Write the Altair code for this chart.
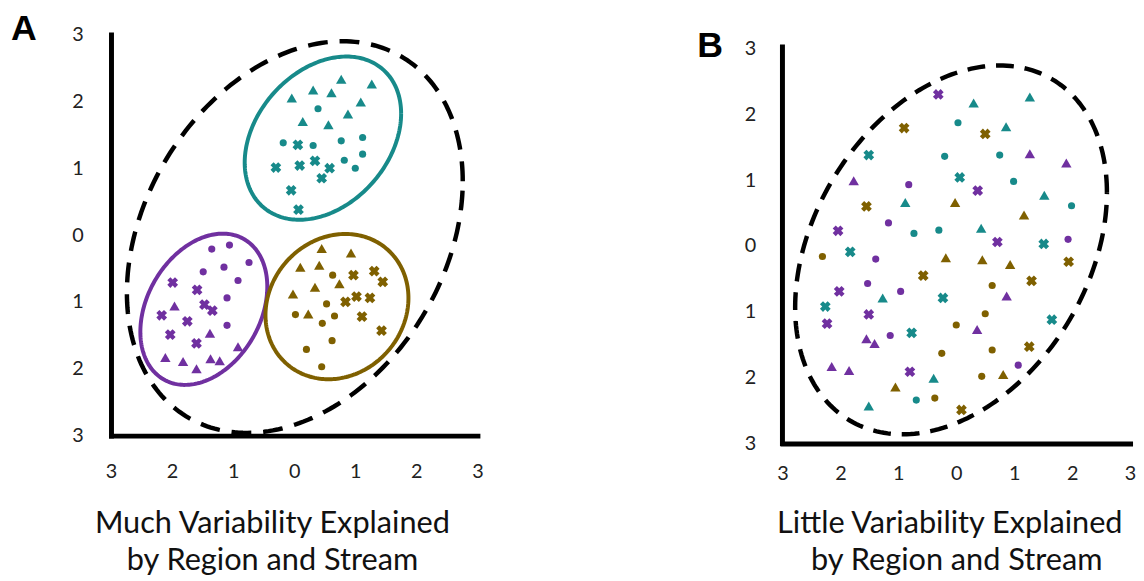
import altair as alt
import numpy as np
import pandas as pd

TEAL = "#178a8a"
PURPLE = "#7030a0"
BROWN = "#7f6000"
REGIONS = ["Region 1", "Region 2", "Region 3"]
STREAMS = ["Stream 1", "Stream 2", "Stream 3"]
TICKS = [-3, -2, -1, 0, 1, 2, 3]

# ---------------- Panel A points ----------------
A_TEAL_TRI_X = [-0.04, 0.31, 0.61, 0.77, 1.27, 1.09, 0.88, 0.14, 0.56]
A_TEAL_TRI_Y = [2.05, 2.17, 2.13, 2.33, 2.26, 1.99, 1.81, 1.70, 1.65]
A_TEAL_CIR_X = [0.39, -0.18, 0.31, 0.77, 1.12, 1.12, 0.82, 1.00]
A_TEAL_CIR_Y = [1.89, 1.38, 1.34, 1.41, 1.46, 1.21, 1.12, 1.00]
A_TEAL_X_X = [0.06, -0.30, 0.09, 0.34, 0.58, 0.45, -0.05, 0.07]
A_TEAL_X_Y = [1.35, 1.01, 1.04, 1.11, 1.00, 0.85, 0.67, 0.38]

A_PURP_CIR_X = [-1.35, -1.06, -0.74, -1.49, -1.15, -0.92, -1.10, -1.10]
A_PURP_CIR_Y = [-0.21, -0.15, -0.41, -0.55, -0.48, -0.68, -0.94, -1.35]
A_PURP_X_X = [-1.99, -1.59, -1.47, -1.34, -2.17, -1.75, -2.03, -1.60]
A_PURP_X_Y = [-0.71, -0.82, -1.04, -1.13, -1.20, -1.29, -1.49, -1.62]
A_PURP_TRI_X = [-1.96, -1.38, -0.92, -2.11, -1.82, -1.60, -1.37, -1.22]
A_PURP_TRI_Y = [-1.06, -1.47, -1.67, -1.83, -1.89, -2.00, -1.85, -1.88]

A_BRWN_TRI_X = [0.45, 0.93, 0.10, 0.41, 0.74, 0.34, -0.02, 0.23]
A_BRWN_TRI_Y = [-0.20, -0.27, -0.48, -0.45, -0.73, -0.78, -0.88, -1.18]
A_BRWN_CIR_X = [0.63, 0.53, 0.02, 0.66, 0.46, 0.62, 0.20, 0.45]
A_BRWN_CIR_Y = [-0.60, -1.03, -1.19, -1.21, -1.32, -1.58, -1.71, -1.97]
A_BRWN_X_X = [0.97, 1.31, 1.45, 0.84, 1.02, 1.24, 1.11, 1.43]
A_BRWN_X_Y = [-0.60, -0.54, -0.70, -1.00, -0.92, -0.94, -1.22, -1.43]

# ---------------- Panel B points ----------------
B_PURP_X_X = [-0.31, 0.37, -2.04, 0.71, -2.02, -1.51, -2.23, -0.80]
B_PURP_X_Y = [2.30, 0.84, 0.23, 0.06, -0.69, -1.04, -1.18, -1.91]
B_PURP_CIR_X = [-0.82, -1.17, -1.39, -1.53, -0.96, -1.14, 1.93, 1.07]
B_PURP_CIR_Y = [0.93, 0.35, -0.20, -0.57, -0.69, -1.36, 0.10, -1.81]
B_PURP_TRI_X = [-1.77, 1.27, 1.90, 0.87, 0.36, -1.55, -1.41, -2.15, -1.85]
B_PURP_TRI_Y = [0.99, 1.40, 1.26, -0.76, -1.27, -1.41, -1.48, -1.83, -1.89]

B_TEAL_X_X = [-1.51, 0.06, -1.83, 1.51, -2.26, -0.23, -0.77, 1.65]
B_TEAL_X_Y = [1.38, 1.04, -0.09, 0.03, -0.92, -0.79, -1.32, -1.12]
B_TEAL_CIR_X = [0.03, -0.20, 0.75, 0.99, 1.99, -0.73, -0.30, -0.69]
B_TEAL_CIR_Y = [1.87, 1.36, 1.38, 0.98, 0.61, 0.19, 0.24, -2.34]
B_TEAL_TRI_X = [0.30, 1.27, 0.86, -0.88, 1.52, 0.43, -1.27, -0.39, -1.51]
B_TEAL_TRI_Y = [2.17, 2.26, 1.81, 0.66, 0.77, 0.27, -0.79, -2.01, -2.43]

B_BRWN_X_X = [-0.90, 0.50, -1.55, -0.57, 1.30, 1.94, 1.26, 0.09]
B_BRWN_X_Y = [1.79, 1.70, 0.60, -0.45, -0.53, -0.24, -1.53, -2.49]
B_BRWN_CIR_X = [-2.31, 0.62, 0.50, 0.00, 0.62, -0.25, 0.44, -0.37]
B_BRWN_CIR_Y = [-0.16, -0.60, -1.03, -1.20, -1.58, -1.63, -1.98, -2.31]
B_BRWN_TRI_X = [-0.02, 1.17, -0.18, 0.45, 0.93, 0.81, -1.05]
B_BRWN_TRI_Y = [0.66, 0.47, -0.18, -0.21, -0.28, -1.95, -2.14]

# ellipse parameters: centre x, centre y, var x, cov xy, var y
A_ELL_ALL = [0.01, -0.03, 7.56, 2.30, 8.58]
A_ELL_TEAL = [0.47, 1.45, 1.64, 0.47, 1.49]
A_ELL_PURP = [-1.48, -1.11, 1.08, 0.35, 1.28]
A_ELL_BRWN = [0.70, -1.07, 1.37, 0.15, 1.18]
B_ELL_ALL = [-0.09, -0.06, 7.24, 2.35, 7.84]

# axis extents (panel B's plot is set lower than panel A's)
A_Y_DOMAIN = [-3, 3]
B_Y_DOMAIN = [-3, 3.21]
B_Y_AXIS_TOP = 3.02

TITLE_A = ["Much Variability Explained", "by Region and Stream"]
TITLE_B = ["Little Variability Explained", "by Region and Stream"]


def points_df(groups):
    rows = []
    for region, stream, xs, ys in groups:
        for x, y in zip(xs, ys):
            rows.append({"x": x, "y": y, "region": region, "stream": stream})
    return pd.DataFrame(rows)


def ellipse_df(params, region, n=240):
    cx, cy, sxx, sxy, syy = params
    t = np.linspace(0, 2 * np.pi, n + 1)
    a = np.sqrt(sxx)
    b = sxy / a
    c = np.sqrt(syy - b * b)
    return pd.DataFrame({
        "x": cx + a * np.cos(t),
        "y": cy + b * np.cos(t) + c * np.sin(t),
        "i": np.arange(n + 1),
        "region": region,
    })


ptsA = points_df([
    ("Region 1", "Stream 1", A_TEAL_TRI_X, A_TEAL_TRI_Y),
    ("Region 1", "Stream 2", A_TEAL_CIR_X, A_TEAL_CIR_Y),
    ("Region 1", "Stream 3", A_TEAL_X_X, A_TEAL_X_Y),
    ("Region 2", "Stream 1", A_PURP_TRI_X, A_PURP_TRI_Y),
    ("Region 2", "Stream 2", A_PURP_CIR_X, A_PURP_CIR_Y),
    ("Region 2", "Stream 3", A_PURP_X_X, A_PURP_X_Y),
    ("Region 3", "Stream 1", A_BRWN_TRI_X, A_BRWN_TRI_Y),
    ("Region 3", "Stream 2", A_BRWN_CIR_X, A_BRWN_CIR_Y),
    ("Region 3", "Stream 3", A_BRWN_X_X, A_BRWN_X_Y),
])
ptsB = points_df([
    ("Region 1", "Stream 1", B_TEAL_TRI_X, B_TEAL_TRI_Y),
    ("Region 1", "Stream 2", B_TEAL_CIR_X, B_TEAL_CIR_Y),
    ("Region 1", "Stream 3", B_TEAL_X_X, B_TEAL_X_Y),
    ("Region 2", "Stream 1", B_PURP_TRI_X, B_PURP_TRI_Y),
    ("Region 2", "Stream 2", B_PURP_CIR_X, B_PURP_CIR_Y),
    ("Region 2", "Stream 3", B_PURP_X_X, B_PURP_X_Y),
    ("Region 3", "Stream 1", B_BRWN_TRI_X, B_BRWN_TRI_Y),
    ("Region 3", "Stream 2", B_BRWN_CIR_X, B_BRWN_CIR_Y),
    ("Region 3", "Stream 3", B_BRWN_X_X, B_BRWN_X_Y),
])

ellA = pd.concat([
    ellipse_df(A_ELL_TEAL, "Region 1"),
    ellipse_df(A_ELL_PURP, "Region 2"),
    ellipse_df(A_ELL_BRWN, "Region 3"),
])
dashA = ellipse_df(A_ELL_ALL, "all")
dashB = ellipse_df(B_ELL_ALL, "all")

COLOR = alt.Color("region:N", scale=alt.Scale(domain=REGIONS, range=[TEAL, PURPLE, BROWN]), legend=None)
TXT_FONT = "Lato"


def panel(pts, ells, dash, W, H, ydom, yaxis_top, letter, lxy, titles, t1, t2, xpad, ypad, dasharr):
    common = dict(values=TICKS, labelExpr="'' + abs(datum.value)", grid=False, ticks=False,
                  domainWidth=5, domainColor="black", domainCap="square", labelFont=TXT_FONT,
                  labelFontSize=20, labelColor="#222222", title=None,
                  labelFlush=False, labelOverlap=False)
    xaxis = alt.Axis(labelPadding=xpad, **common)
    yaxis = alt.Axis(labelPadding=ypad, domain=(yaxis_top is None), **common)
    X = alt.X("x:Q", scale=alt.Scale(domain=[-3, 3], nice=False, zero=False), axis=xaxis)
    Y = alt.Y("y:Q", scale=alt.Scale(domain=ydom, nice=False, zero=False), axis=yaxis)

    layers = []
    if yaxis_top is not None:
        layers.append(alt.Chart(pd.DataFrame({"x": [-3], "y": [-3], "y2": [yaxis_top]})).mark_rule(
            strokeWidth=5, color="black", strokeCap="square"
        ).encode(x=X, y=Y, y2="y2:Q"))
    layers.append(alt.Chart(dash).mark_line(strokeWidth=4.5, strokeDash=dasharr, color="black",
                                            strokeCap="butt").encode(x=X, y=Y, order="i:Q"))
    if ells is not None:
        layers.append(alt.Chart(ells).mark_line(strokeWidth=4).encode(
            x=X, y=Y, color=COLOR, detail="region:N", order="i:Q"))
    layers.append(alt.Chart(pts).transform_calculate(
        rot="datum.stream === 'Stream 3' ? 45 : 0",
        sz="datum.stream === 'Stream 1' ? 110 : (datum.stream === 'Stream 2' ? 52 : 120)",
    ).mark_point(filled=True, opacity=1, strokeWidth=0).encode(
        x=X, y=Y, color=COLOR,
        shape=alt.Shape("stream:N", scale=alt.Scale(domain=STREAMS, range=["triangle-up", "circle", "cross"]), legend=None),
        size=alt.Size("sz:Q", scale=None),
        angle=alt.Angle("rot:Q", scale=None),
    ))
    layers.append(alt.Chart(pd.DataFrame({"t": [letter]})).mark_text(
        font="Liberation Sans", fontWeight="bold", fontSize=36, align="center", baseline="middle", color="black"
    ).encode(text="t:N", x=alt.value(lxy[0]), y=alt.value(lxy[1])))
    layers.append(alt.Chart(pd.DataFrame({"t": [titles[0]]})).mark_text(
        font=TXT_FONT, fontSize=31, align="center", baseline="middle", color="#111111"
    ).encode(text="t:N", x=alt.value(t1[0]), y=alt.value(t1[1])))
    layers.append(alt.Chart(pd.DataFrame({"t": [titles[1]]})).mark_text(
        font=TXT_FONT, fontSize=31, align="center", baseline="middle", color="#111111"
    ).encode(text="t:N", x=alt.value(t2[0]), y=alt.value(t2[1])))
    return alt.layer(*layers).properties(width=W, height=H)


chartA = panel(ptsA, ellA, dashA, 370, 405, A_Y_DOMAIN, None, "A", (-88, -5), TITLE_A,
               (163, 494), (163, 532), 26, 28, [20, 12])
chartB = panel(ptsB, None, dashB, 351, 413, B_Y_DOMAIN, B_Y_AXIS_TOP, "B", (-73, 12), TITLE_B,
               (169, 494), (176, 532), 20, 27, [18, 11])

chart = alt.hconcat(chartA, chartB, spacing=216).properties(
    padding={"left": 3, "top": 1, "right": 0, "bottom": 0}
).configure_view(stroke=None)

chart.save("out.html", embed_options={"renderer": "svg", "actions": False})
